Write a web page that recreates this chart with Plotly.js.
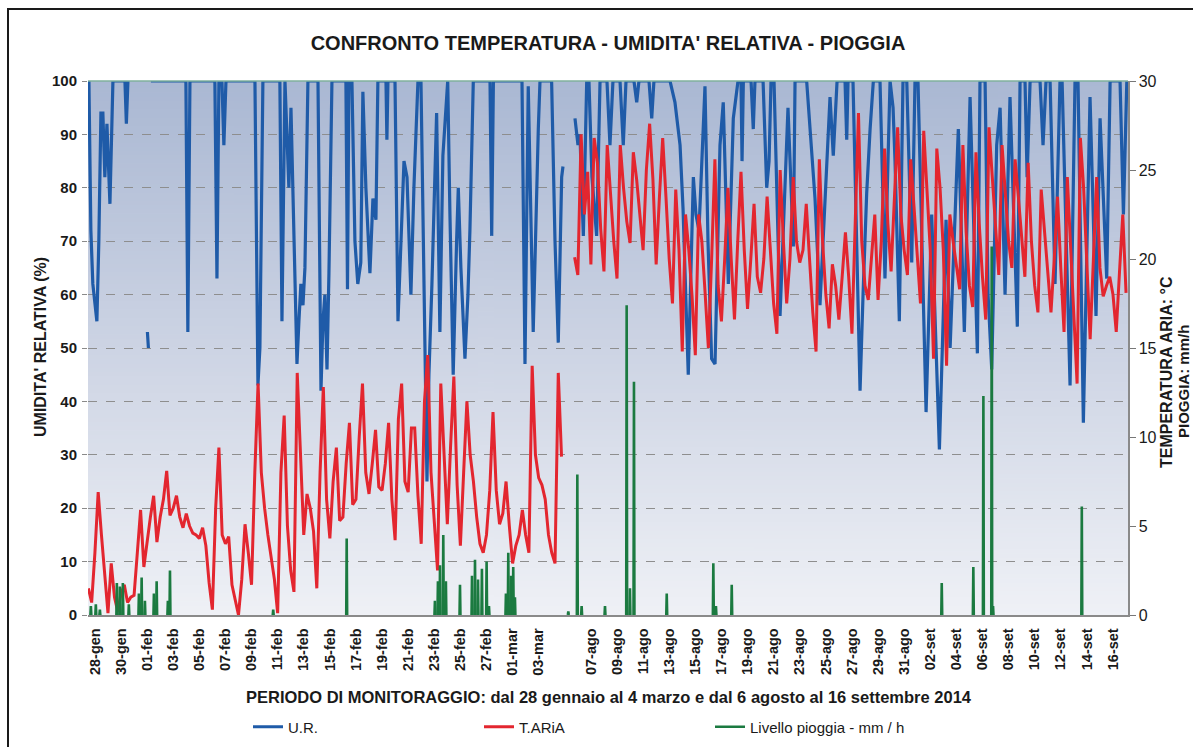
<!DOCTYPE html>
<html><head><meta charset="utf-8">
<script src="https://cdn.plot.ly/plotly-3.0.1.min.js"></script>
<style>
html,body{margin:0;padding:0;background:#fff;overflow:hidden;}
#chart{width:1193px;height:747px;}
#frame{position:absolute;left:7px;top:8px;width:1186px;height:739px;border-left:2px solid #1a1a1a;border-top:2px solid #1a1a1a;pointer-events:none;box-sizing:border-box;}
</style></head><body>
<div id="chart"></div><div id="frame"></div>
<script>
// ---- categories / tick labels (day index from 28-gen; one blank day between the two periods)
const labelDays = [0,2,4,6,8,10,12,14,16,18,20,22,24,26,28,30,32,34,38,40,42,44,46,48,50,52,54,56,58,60,62,64,66,68,70,72,74,76,78];
const tickLabels = ['28-gen','30-gen','01-feb','03-feb','05-feb','07-feb','09-feb','11-feb','13-feb','15-feb','17-feb','19-feb','21-feb','23-feb','25-feb','27-feb','01-mar','03-mar','07-ago','09-ago','11-ago','13-ago','15-ago','17-ago','19-ago','21-ago','23-ago','25-ago','27-ago','29-ago','31-ago','02-set','04-set','06-set','08-set','10-set','12-set','14-set','16-set'];

// ---- U.R. (%) readings: time in days, value
const urJanX = [0.04,0.19,0.34,0.65,0.80,0.96,1.11,1.26,1.42,1.65,1.88,2.80,2.91,3.03,null,4.52,4.60,null,4.79,7.47,7.62,7.78,9.69,9.85,10.00,10.23,10.38,10.54,12.76,12.99,13.14,13.37,14.67,14.83,15.06,15.21,15.36,15.52,15.67,15.82,15.98,16.13,16.28,16.44,16.59,16.82,17.59,17.82,17.97,18.12,18.28,18.43,18.66,19.73,19.85,19.96,20.19,20.42,20.64,20.87,21.03,21.26,21.57,21.80,22.03,22.18,22.80,22.87,22.95,23.49,23.72,23.95,24.18,24.41,24.71,24.94,25.25,25.48,25.71,25.94,26.09,26.32,26.68,26.93,27.16,27.53,27.70,27.95,28.21,28.34,28.54,28.85,29.08,29.23,29.49,30.77,30.90,31.03,33.22,33.45,33.70,33.83,34.08,34.47,34.60,35.49,35.75,36.00,36.26,36.36];
const urJanY = [100,72,62,55,70,94,94,82,92,77,100,100,92,100,null,53,50,null,100,100,53,100,100,63,100,100,88,100,100,43,50,100,100,55,100,88,80,95,78,60,47,55,62,58,65,100,100,42,55,60,46,64,100,100,61,100,100,70,62,66,98,80,64,78,74,100,100,89,100,100,55,70,85,82,60,80,100,100,60,25,45,62,94,53,86,100,75,45,70,80,65,48,60,72,100,100,71,100,100,47,99,85,53,91,100,100,70,51,82,84];
const urAugX = [37.28,37.51,37.66,37.92,38.18,38.35,38.58,38.94,39.20,39.73,39.96,40.19,40.73,40.98,41.19,41.80,42.01,42.18,42.95,43.16,43.33,44.56,44.94,45.33,45.56,45.96,46.35,46.55,46.78,47.24,47.47,47.75,48.01,48.39,48.64,49.03,49.41,49.77,50.00,50.08,50.18,50.77,50.94,51.07,51.69,51.97,52.15,52.30,52.53,52.99,53.60,54.01,54.14,55.03,55.67,56.05,56.82,57.07,57.36,57.97,58.10,58.20,58.58,59.12,59.35,59.63,59.89,60.14,60.65,61.03,61.42,61.65,61.80,62.13,62.41,62.70,63.08,63.33,63.56,64.18,64.61,65.20,65.71,66.02,66.65,67.11,67.55,68.11,68.31,68.70,68.93,69.21,69.59,69.85,70.23,70.61,71.17,71.38,71.76,71.92,72.15,72.91,73.14,73.37,73.68,74.06,74.44,74.60,75.21,75.59,75.82,76.23,76.74,77.20,77.51,78.02,78.28,79.04,79.30,79.56];
const urAugY = [93,88,90,71,100,100,82,71,100,100,88,100,100,88,100,100,96,100,100,93,100,100,96,88,76,45,82,75,72,99,70,48,47,88,96,62,93,100,100,85,100,100,91,100,100,80,85,100,100,56,95,69,100,100,78,58,97,86,100,100,89,100,100,42,60,79,91,100,100,63,100,95,85,55,100,100,66,100,100,38,75,31,74,50,91,53,97,49,100,100,60,46,88,95,60,97,54,100,100,82,100,100,88,100,100,62,100,100,43,100,100,36,97,56,93,63,100,100,75,100];

// ---- T.ARIA (°C) six-hourly readings
const tempStep = 0.25;
const tempJanStart = 0;
const tempJan = [1.5,0.7,3.5,6.9, 4.5,2.5,0.1,2.9, 1.0,0.2,1.2,1.7, 0.7,1.0,1.1,3.5, 5.9,2.7,4.2,5.5, 6.7,4.1,5.5,6.5, 8.1,5.6,6.0,6.7, 5.5,4.9,5.7,5.0, 4.6,4.5,4.3,4.9, 3.9,1.8,0.3,6.0, 9.4,4.5,4.0,4.4, 1.7,0.8,0.0,2.0, 5.1,3.5,1.7,8.0, 13.0,8.0,6.0,4.5, 3.2,2.0,0.1,8.0, 11.2,5.0,2.5,1.3, 13.6,8.6,4.5,6.8, 6.0,4.7,1.5,8.0, 12.8,6.5,4.3,7.5, 9.4,5.3,5.5,8.5, 10.8,6.2,6.5,10.0, 13.0,8.0,6.8,8.5, 10.4,7.2,7.0,8.5, 10.8,6.5,4.2,11.0, 13.0,7.5,6.9,10.5, 10.5,6.7,4.0,12.0, 14.6,8.0,5.5,2.5, 13.0,9.0,5.1,9.5, 13.4,7.3,3.9,8.0, 12.0,9.0,7.5,5.5, 4.0,3.5,4.5,7.0, 11.4,7.0,5.1,5.7, 7.5,5.0,2.9,3.9, 4.5,5.9,4.5,3.5, 14.0,9.0,7.7,7.3, 6.5,4.5,3.5,2.9, 13.6,8.9];
const tempAugStart = 37.25;
const tempAug = [20.1,19.1,27.0, 22.5,24.9,19.7,26.8, 25.4,21.7,19.3,26.4, 23.5,21.0,18.9,26.4, 24.0,22.1,20.9,26.0, 24.5,22.5,20.5,25.0, 27.6,24.5,19.7,23.5, 26.8,23.5,20.0,17.5, 23.9,20.5,14.8,22.5, 20.5,17.9,14.6,22.5, 21.0,18.1,15.0,20.0, 25.6,18.5,16.5,20.0, 24.0,20.0,16.6,21.0, 24.9,20.5,17.2,20.0, 23.1,19.0,18.1,20.0, 23.5,20.5,17.5,15.8, 25.0,21.0,17.5,20.0, 24.6,21.0,19.8,20.5, 23.1,20.0,17.0,14.8, 25.6,21.0,18.0,16.1, 19.7,18.5,16.6,19.0, 21.5,19.0,15.8,22.0, 28.2,21.0,18.5,17.7, 20.0,22.5,17.7,21.0, 26.2,22.0,19.3,23.0, 27.4,22.5,20.5,19.1, 25.6,23.0,20.5,17.5, 27.2,23.5,20.5,14.4, 26.2,24.0,20.5,14.0, 22.5,21.0,19.5,18.3, 26.4,21.5,18.5,17.3, 26.0,22.0,19.0,16.6, 27.4,24.5,21.5,19.1, 26.4,23.5,21.0,19.5, 25.6,23.5,21.0,19.0, 25.4,21.0,18.5,17.0, 23.9,21.5,19.0,17.0, 20.0,23.5,19.5,15.9, 24.6,21.0,17.0,13.0, 26.8,24.0,19.7,15.5, 20.0,24.6,19.5,17.9, 18.5,19.0,18.0,15.9, 19.3,22.5,18.1];

// ---- Livello pioggia (mm/h): rain events
const rainX = [0.19,0.57,0.88,2.18,2.41,2.64,3.10,3.87,4.08,4.33,5.02,5.23,6.09,6.25,14.16,19.79,26.55,26.78,26.94,27.19,27.39,28.47,29.39,29.62,29.85,30.15,30.51,30.69,31.99,32.17,32.38,32.55,32.68,36.77,37.46,37.79,39.58,41.24,41.49,41.80,44.31,47.88,48.08,49.29,65.38,67.80,68.57,69.21,69.31,76.11];
const rainMm = [0.5,0.6,0.3,1.8,1.6,1.8,0.6,1.2,2.1,0.8,1.2,1.9,0.8,2.5,0.3,4.3,0.8,1.9,2.8,4.5,1.9,1.7,2.2,3.1,2.0,2.6,3.0,0.5,1.2,3.5,2.2,2.7,1.0,0.2,7.9,0.5,0.5,17.4,1.5,13.1,1.2,2.9,0.5,1.7,1.8,2.7,12.3,20.7,0.5,6.1];

// ---- build traces
const urX = urJanX.concat([null], urAugX);
const urY = urJanY.concat([null], urAugY);
const tX = tempJan.map((v,i)=>tempJanStart+i*tempStep).concat([null], tempAug.map((v,i)=>tempAugStart+i*tempStep));
const tY = tempJan.concat([null], tempAug);
const rX = [], rY = [];
const halfW = 0.035;
rainX.forEach((d,i)=>{ rX.push(d-halfW,d,d+halfW,null); rY.push(0,rainMm[i],0,null); });

const FONT = 'Liberation Sans, Arial, Helvetica, sans-serif';
const BLUE = '#1f5ba8', RED = '#e3262f', GREEN = '#1b7a40';

// gradient background for plot area
const cv = document.createElement('canvas'); cv.width = 4; cv.height = 256;
const cx = cv.getContext('2d');
const g = cx.createLinearGradient(0,0,0,256);
g.addColorStop(0,'rgb(170,184,211)');
g.addColorStop(0.5,'rgb(205,212,228)');
g.addColorStop(1,'rgb(239,241,246)');
cx.fillStyle = g; cx.fillRect(0,0,4,256);
const bgURL = cv.toDataURL();

const traces = [
  {x:urX, y:urY, name:'U.R.', type:'scatter', mode:'lines', line:{color:BLUE, width:3.2}, connectgaps:false, yaxis:'y'},
  {x:tX, y:tY, name:'T.ARiA', type:'scatter', mode:'lines', line:{color:RED, width:3}, connectgaps:false, yaxis:'y2'},
  {x:rX, y:rY, name:'Livello pioggia - mm / h', type:'scatter', mode:'lines', line:{color:GREEN, width:2.6}, connectgaps:false, yaxis:'y2'}
];

const layout = {
  width:1193, height:747,
  paper_bgcolor:'#ffffff', plot_bgcolor:'rgba(0,0,0,0)',
  margin:{l:88, r:65, t:81, b:132, autoexpand:false},
  font:{family:FONT, color:'#1a1a1a'},
  showlegend:true,
  title:{text:"CONFRONTO TEMPERATURA - UMIDITA' RELATIVA - PIOGGIA", font:{family:FONT, size:20, weight:'bold', color:'#1a1a1a'}, x:0.5, xref:'paper', xanchor:'center', y:1-43/747, yref:'container', yanchor:'middle'},
  xaxis:{range:[-0.03,79.65], tickmode:'array', tickvals:labelDays.map(d=>d+0.5), ticktext:tickLabels, tickangle:-90,
         tickfont:{family:FONT, size:14.5, weight:'bold', color:'#1a1a1a'}, showgrid:false, zeroline:false,
         showline:true, linecolor:'#8a8a8a', linewidth:1.5, ticks:'', ticklabelstandoff:6, automargin:false},
  yaxis:{range:[0,100], dtick:10, tick0:0, tickfont:{family:FONT, size:15, weight:'bold', color:'#1a1a1a'},
         showgrid:true, gridcolor:'#8e8e8e', griddash:'dash', gridwidth:1, zeroline:false, showline:false,
         ticks:'outside', ticklen:5, tickcolor:'#8a8a8a', ticklabelstandoff:2, automargin:false},
  yaxis2:{range:[0,30], dtick:5, tick0:0, overlaying:'y', side:'right', ticks:'outside', ticklen:6, tickcolor:'#777',
         showline:true, linecolor:'#8a8a8a', linewidth:1.5, showgrid:false, zeroline:false, automargin:false,
         tickfont:{family:FONT, size:16, color:'#1a1a1a'}},
  legend:{orientation:'h', xref:'container', yref:'container', x:248/1193, xanchor:'left', y:1-727/747, yanchor:'middle',
          entrywidth:186, entrywidthmode:'pixels',
          font:{family:FONT, size:15, color:'#1a1a1a'}, bgcolor:'rgba(0,0,0,0)', traceorder:'normal'},
  images:[{source:bgURL, xref:'paper', yref:'paper', x:0, y:1, sizex:1, sizey:1, sizing:'stretch', xanchor:'left', yanchor:'top', layer:'below'}],
  shapes:[{type:'line', xref:'paper', yref:'paper', x0:0, x1:1, y0:1, y1:1, line:{color:'#7fb09c', width:1.5}}],
  annotations:[
    {text:"UMIDITA' RELATIVA (%)", xref:'paper', yref:'paper', x:(40-88)/1040, y:(615-347)/534, textangle:-90, showarrow:false,
     font:{family:FONT, size:16, weight:'bold', color:'#1a1a1a'}, xanchor:'center', yanchor:'middle'},
    {text:'TEMPERATURA ARIA: °C', xref:'paper', yref:'paper', x:(1166-88)/1040, y:(615-372)/534, textangle:-90, showarrow:false,
     font:{family:FONT, size:16, weight:'bold', color:'#1a1a1a'}, xanchor:'center', yanchor:'middle'},
    {text:'PIOGGIA: mm/h', xref:'paper', yref:'paper', x:(1184-88)/1040, y:(615-382)/534, textangle:-90, showarrow:false,
     font:{family:FONT, size:15, weight:'bold', color:'#1a1a1a'}, xanchor:'center', yanchor:'middle'},
    {text:'PERIODO DI MONITORAGGIO: dal 28 gennaio al 4 marzo e dal 6 agosto al 16 settembre 2014', xref:'paper', yref:'paper',
     x:(609-88)/1040, y:(615-697)/534, showarrow:false, font:{family:FONT, size:16.5, weight:'bold', color:'#1a1a1a'}, xanchor:'center', yanchor:'middle'}
  ]
};

Plotly.newPlot('chart', traces, layout, {displayModeBar:false, staticPlot:true});
</script></body></html>
